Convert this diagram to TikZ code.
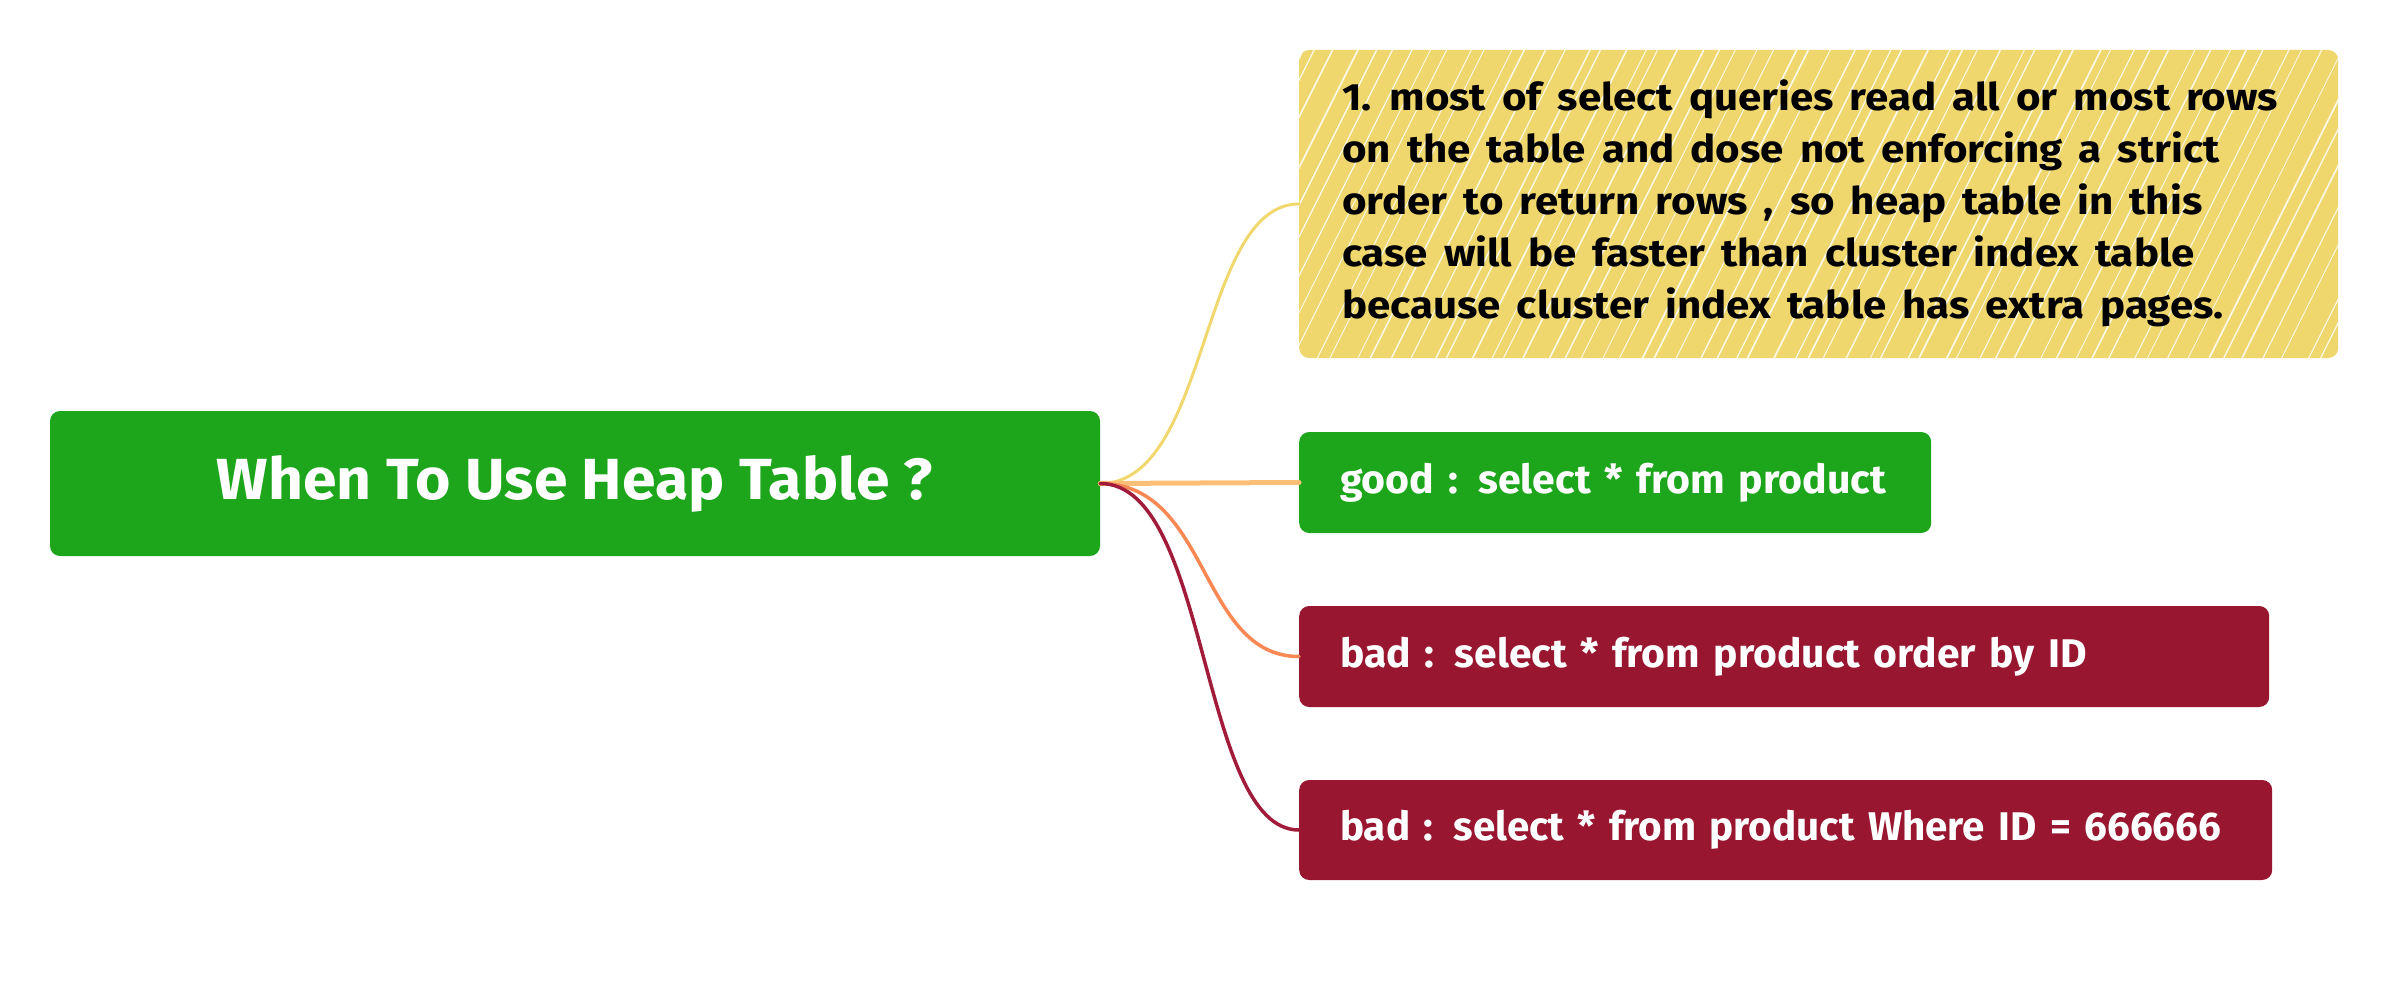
\documentclass[tikz,border=0pt]{standalone}
\usepackage{fontspec}
\setmainfont{Fira Sans}
\usepackage{graphicx}
\definecolor{mmgreen}{RGB}{29,166,28}
\definecolor{mmred}{RGB}{152,22,48}
\definecolor{mmyellow}{RGB}{239,215,110}
\definecolor{lnyellow}{RGB}{240,215,110}
\definecolor{lnpeach}{RGB}{253,190,120}
\definecolor{lnorange}{RGB}{249,136,85}
\definecolor{lnred}{RGB}{160,28,58}
\newcommand\fitw[2]{\resizebox{#1}{\height}{#2}}
\begin{document}
\begin{tikzpicture}[x=1pt,y=-1pt,
  mmbox/.style={rounded corners=10pt, inner ysep=0pt, anchor=west, text=white, align=left},
  childtxt/.style={font=\fontsize{40}{44}\selectfont\bfseries},
  link/.style={line width=3.5pt, line cap=round}]
\useasboundingbox (0,0) rectangle (2388,1000);

\node[mmbox, fill=mmgreen, minimum width=1050pt, minimum height=145pt, anchor=center, align=center] (root) at (575,483.5)
  {\fontsize{58}{62}\selectfont\bfseries\fitw{716pt}{When To Use Heap Table ?}};

\pgfmathsetseed{7}
\node[mmbox, fill=mmyellow, text=black, text width=953pt, inner xsep=43pt, minimum height=308pt,
  path picture={
    \foreach \i in {0,...,62} {
      \pgfmathsetmacro\xo{-160+\i*19+rnd*12}
      \pgfmathsetmacro\lw{0.8+rnd*0.9}
      \draw[white, line width=\lw pt, opacity=0.85] (path picture bounding box.south west) ++(\xo,0) -- ++(154,-308);
    }
  }] (note) at (1299,204)
  {\fontsize{38}{52}\selectfont\bfseries\spaceskip=0.38em\relax\xspaceskip=0.42em\relax\fitw{936pt}{\begin{tabular}{@{}l@{}}
  1. most of select queries read all or most rows\\
  on the table and dose not enforcing a strict\\
  order to return rows , so heap table in this\\
  case will be faster than cluster index table\\
  because cluster index table has extra pages.
  \end{tabular}}};

\node[mmbox, fill=mmgreen, text width=550pt, inner xsep=41pt, minimum height=101pt, childtxt] (good) at (1299,482.5)
  {\fitw{546pt}{good : select * from product}};
\node[mmbox, fill=mmred, text width=888pt, inner xsep=41pt, minimum height=101pt, childtxt] (bad1) at (1299,656.5)
  {\fitw{747pt}{bad : select * from product order by ID}};
\node[mmbox, fill=mmred, text width=891pt, inner xsep=41pt, minimum height=100pt, childtxt] (bad2) at (1299,830)
  {\fitw{881pt}{bad : select * from product Where ID = 666666}};

\draw[link, lnyellow, line width=3pt] (root.east) .. controls +(110,0) and +(-100,0) .. (note.west);
\draw[link, lnpeach, line width=5pt] (root.east) .. controls +(100,0) and +(-100,0) .. (good.west);
\draw[link, lnorange] (root.east) .. controls +(110,0) and +(-100,0) .. (bad1.west);
\draw[link, lnred] (root.east) .. controls +(110,0) and +(-100,0) .. (bad2.west);
\end{tikzpicture}
\end{document}
